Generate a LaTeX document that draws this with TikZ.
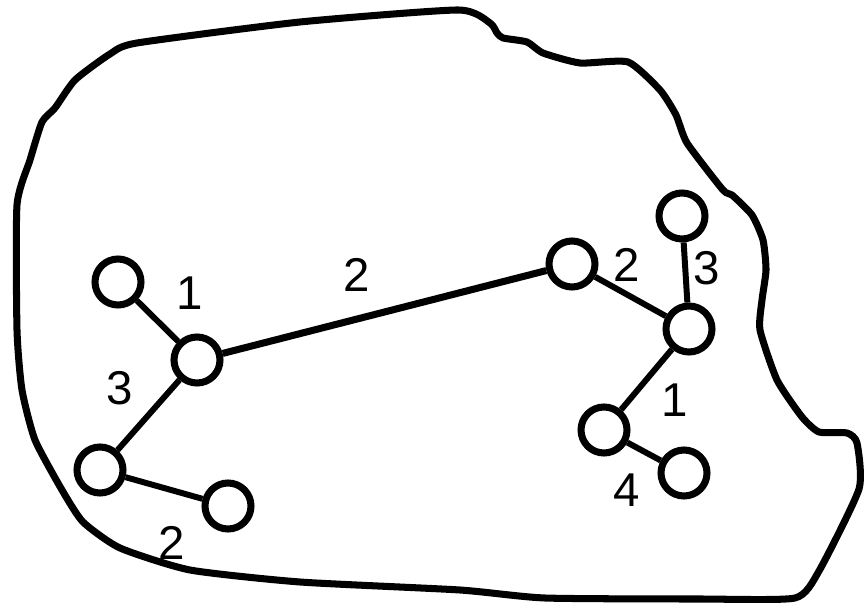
\documentclass[tikz,border=0pt]{standalone}
\usepackage{fontspec}
\setmainfont{Liberation Sans}
\tikzset{my vertex/.style={draw, circle, line width=4pt, minimum size=0.92cm, inner sep=0pt},
         my edge/.style={line width=3.4pt},
         my weight/.style={font=\fontsize{27}{32}\selectfont, inner sep=0pt},}

\begin{document}
\begin{tikzpicture}
\useasboundingbox (0,0) rectangle (17.30,12.04);
\draw [line width=4pt, line join=round] plot [smooth cycle, tension=0.35] coordinates {
  (2.74,11.18) (6.00,11.60) (9.16,11.84) (9.80,11.58) (9.94,11.38) (10.06,11.28)
  (10.54,11.20) (10.86,10.98) (11.60,10.78) (12.56,10.80) (13.20,10.24) (13.52,9.74)
  (13.74,9.18) (14.46,8.24) (14.64,8.14) (15.04,7.74) (15.26,7.24) (15.32,6.64)
  (15.24,6.04) (15.20,5.44) (15.54,4.44) (16.04,3.70) (16.38,3.40) (16.94,3.38)
  (17.14,3.18) (17.18,2.26) (16.38,0.62) (15.90,0.08) (14.00,0.06) (10.90,0.08)
  (9.20,0.24) (6.00,0.40) (3.80,0.64) (2.40,1.08) (1.66,1.60) (1.24,2.24)
  (0.70,3.24) (0.44,4.24) (0.34,5.44) (0.34,7.94) (0.60,8.84) (0.84,9.60)
  (1.10,9.88) (1.50,10.44) (2.20,10.96)};
\node [my vertex] (v1) at (  2.36,  6.40) {};
\node [my vertex] (v2) at (  3.94,  4.84) {};
\node [my vertex] (v3) at (  2.00,  2.64) {};
\node [my vertex] (v4) at (  4.56,  1.92) {};
\node [my vertex] (v5) at ( 11.44,  6.76) {};
\node [my vertex] (v6) at ( 13.64,  7.72) {};
\node [my vertex] (v7) at ( 13.78,  5.46) {};
\node [my vertex] (v8) at ( 12.08,  3.44) {};
\node [my vertex] (v9) at ( 13.68,  2.58) {};
\draw [my edge] (v1) -- (v2);
\draw [my edge, line width=4pt] (v2) -- (v5);
\draw [my edge] (v2) -- (v3);
\draw [my edge] (v3) -- (v4);
\draw [my edge] (v5) -- (v7);
\draw [my edge] (v6) -- (v7);
\draw [my edge] (v7) -- (v8);
\draw [my edge] (v8) -- (v9);
\node [my weight] (w12) at (  3.80,  6.18) {1};
\node [my weight] (w25) at (  7.14,  6.54) {2};
\node [my weight] (w23) at (  2.40,  4.28) {3};
\node [my weight] (w34) at (  3.44,  1.18) {2};
\node [my weight] (w57) at ( 12.54,  6.74) {2};
\node [my weight] (w67) at ( 14.14,  6.68) {3};
\node [my weight] (w78) at ( 13.50,  4.04) {1};
\node [my weight] (w89) at ( 12.54,  2.24) {4};
\end{tikzpicture}
\end{document}
